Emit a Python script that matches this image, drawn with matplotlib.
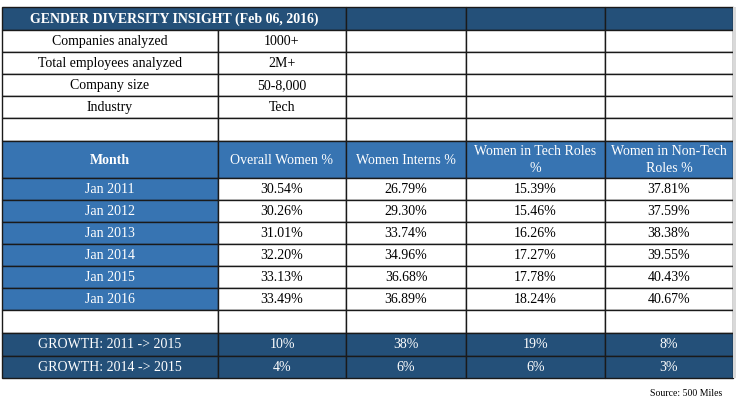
import matplotlib
matplotlib.use("Agg")
import matplotlib.pyplot as plt
from matplotlib.patches import Rectangle

# ---- data ----
title = "GENDER DIVERSITY INSIGHT (Feb 06, 2016)"
info_labels = ["Companies analyzed", "Total employees analyzed", "Company size", "Industry"]
info_values = ["1000+", "2M+", "50-8,000", "Tech"]
headers = ["Month", "Overall Women %", "Women Interns %", "Women in Tech Roles\n%", "Women in Non-Tech\nRoles %"]
months = ["Jan 2011", "Jan 2012", "Jan 2013", "Jan 2014", "Jan 2015", "Jan 2016"]
overall_women = [30.54, 30.26, 31.01, 32.20, 33.13, 33.49]
women_interns = [26.79, 29.30, 33.74, 34.96, 36.68, 36.89]
women_tech = [15.39, 15.46, 16.26, 17.27, 17.78, 18.24]
women_nontech = [37.81, 37.59, 38.38, 39.55, 40.43, 40.67]
growth_labels = ["GROWTH: 2011 -> 2015", "GROWTH: 2014 -> 2015"]
growth_2011_2015 = [10, 38, 19, 8]
growth_2014_2015 = [4, 6, 6, 3]
source = "Source: 500 Miles"

# ---- layout ----
W, H = 736, 403
fig = plt.figure(figsize=(W / 100, H / 100), dpi=100)
ax = fig.add_axes([0, 0, 1, 1])
ax.set_xlim(0, W)
ax.set_ylim(H, 0)
ax.axis("off")

FONT = "Liberation Serif"
FS = 10
DARK = "#245079"
MID = "#3774b2"
LINE = "#1a1a1a"

cols = [2, 218, 346, 466, 605, 733]
rows_top = [7, 30, 52, 74, 96, 118, 141]
header_rows = [141, 178]
data_rows = [178, 200, 222, 244, 266, 288, 310]
blank2 = [310, 333]
growth_rows = [333, 356, 378]


def cell(x0, x1, y0, y1, fc, text="", color="black", bold=False, lw=1.0, ec=LINE):
    ax.add_patch(Rectangle((x0, y0), x1 - x0, y1 - y0, facecolor=fc,
                           edgecolor=ec, linewidth=lw))
    if text:
        ax.text((x0 + x1) / 2, (y0 + y1) / 2 + 0.5, text, ha="center", va="center",
                fontsize=FS, family=FONT, color=color,
                fontweight="bold" if bold else "normal", linespacing=1.35)


# title row
cell(cols[0], cols[2], rows_top[0], rows_top[1], DARK, title, "white", bold=True)
for c in range(2, 5):
    cell(cols[c], cols[c + 1], rows_top[0], rows_top[1], DARK)

# info rows
for i in range(5):
    y0, y1 = rows_top[i + 1], rows_top[i + 2]
    lab = info_labels[i] if i < len(info_labels) else ""
    val = info_values[i] if i < len(info_values) else ""
    cell(cols[0], cols[1], y0, y1, "white", lab)
    cell(cols[1], cols[2], y0, y1, "white", val)
    for c in range(2, 5):
        cell(cols[c], cols[c + 1], y0, y1, "white")

# header row
for c in range(5):
    cell(cols[c], cols[c + 1], header_rows[0], header_rows[1], MID, headers[c],
         "white", bold=(c == 0))

# data rows
series = [overall_women, women_interns, women_tech, women_nontech]
for r, m in enumerate(months):
    y0, y1 = data_rows[r], data_rows[r + 1]
    cell(cols[0], cols[1], y0, y1, MID, m, "white")
    for c, s in enumerate(series):
        cell(cols[c + 1], cols[c + 2], y0, y1, "white", f"{s[r]:.2f}%")

# blank row
for c in range(5):
    cell(cols[c], cols[c + 1], blank2[0], blank2[1], "white")

# growth rows
for g, (lab, vals) in enumerate(zip(growth_labels, [growth_2011_2015, growth_2014_2015])):
    y0, y1 = growth_rows[g], growth_rows[g + 1]
    cell(cols[0], cols[1], y0, y1, DARK, lab, "white")
    for c, v in enumerate(vals):
        cell(cols[c + 1], cols[c + 2], y0, y1, DARK, f"{v}%", "white")

# right shadow edge
ax.add_patch(Rectangle((cols[-1], rows_top[0]), 2.5, growth_rows[-1] - rows_top[0],
                       facecolor="#d9d9d9", edgecolor="none"))

ax.text(722, 394, source, ha="right", va="center", fontsize=7, family=FONT, color="black")

fig.savefig("out.png", dpi=100)
